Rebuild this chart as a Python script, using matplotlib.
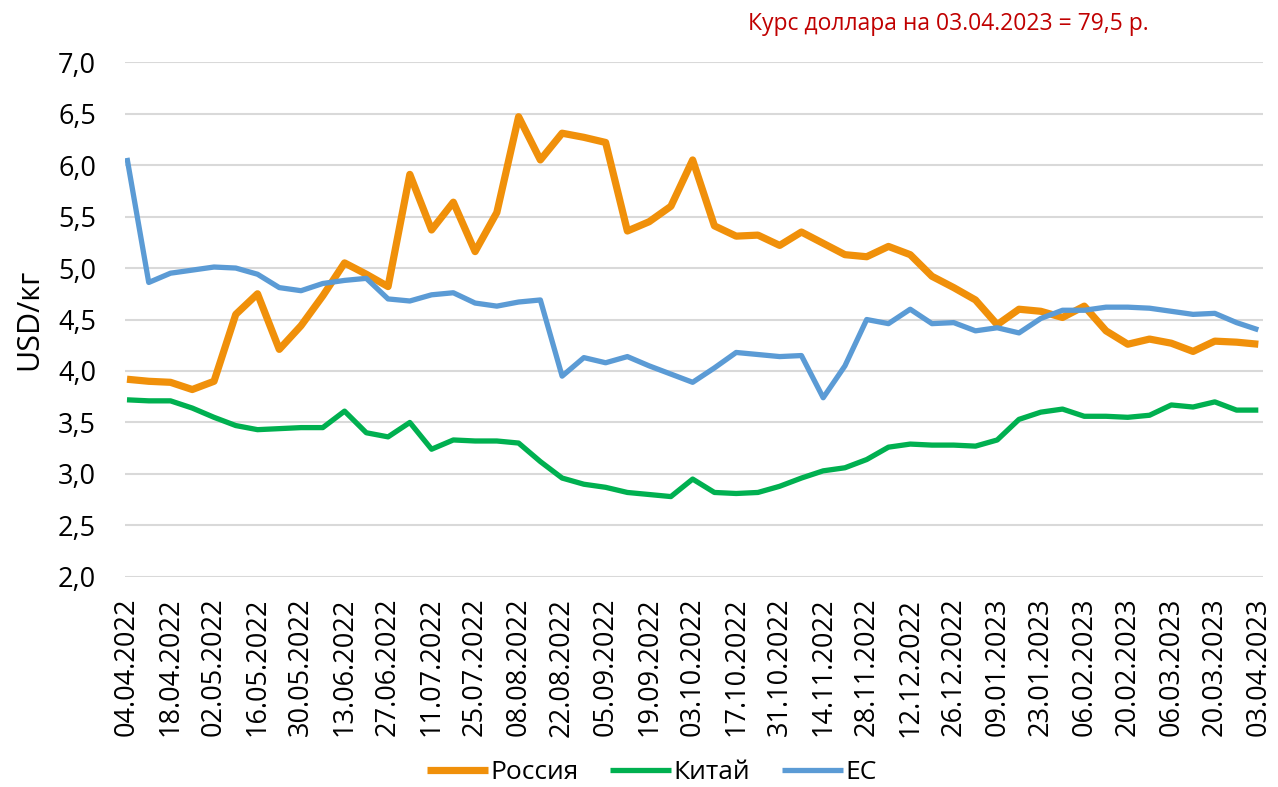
import pandas as pd
import matplotlib
matplotlib.use("Agg")
import matplotlib.pyplot as plt
from matplotlib.ticker import FuncFormatter

plt.rcParams["font.family"] = ["Open Sans", "DejaVu Sans"]

# недельные даты, 04.04.2022 .. 03.04.2023
DATES = pd.date_range("2022-04-04", "2023-04-03", freq="7D")
DATE_LABELS = [d.strftime("%d.%m.%Y") for d in DATES]

RUSSIA = [3.92, 3.90, 3.89, 3.82, 3.90, 4.55, 4.75, 4.21, 4.44, 4.73,
          5.05, 4.94, 4.82, 5.91, 5.37, 5.64, 5.16, 5.54, 6.47, 6.05,
          6.31, 6.27, 6.22, 5.36, 5.45, 5.60, 6.05, 5.41, 5.31, 5.32,
          5.22, 5.35, 5.24, 5.13, 5.11, 5.21, 5.13, 4.92, 4.81, 4.69,
          4.45, 4.60, 4.58, 4.52, 4.63, 4.39, 4.26, 4.31, 4.27, 4.19,
          4.29, 4.28, 4.26]
CHINA = [3.72, 3.71, 3.71, 3.64, 3.55, 3.47, 3.43, 3.44, 3.45, 3.45,
         3.61, 3.40, 3.36, 3.50, 3.24, 3.33, 3.32, 3.32, 3.30, 3.12,
         2.96, 2.90, 2.87, 2.82, 2.80, 2.78, 2.95, 2.82, 2.81, 2.82,
         2.88, 2.96, 3.03, 3.06, 3.14, 3.26, 3.29, 3.28, 3.28, 3.27,
         3.33, 3.53, 3.60, 3.63, 3.56, 3.56, 3.55, 3.57, 3.67, 3.65,
         3.70, 3.62, 3.62]
EU = [6.07, 4.86, 4.95, 4.98, 5.01, 5.00, 4.94, 4.81, 4.78, 4.85,
      4.88, 4.90, 4.70, 4.68, 4.74, 4.76, 4.66, 4.63, 4.67, 4.69,
      3.95, 4.13, 4.08, 4.14, 4.05, 3.97, 3.89, 4.03, 4.18, 4.16,
      4.14, 4.15, 3.74, 4.05, 4.50, 4.46, 4.60, 4.46, 4.47, 4.39,
      4.42, 4.37, 4.51, 4.59, 4.59, 4.62, 4.62, 4.61, 4.58, 4.55,
      4.56, 4.47, 4.40]

SERIES = [
    ("Россия", RUSSIA, "#F0900A", 5.2),
    ("Китай", CHINA, "#00B050", 3.8),
    ("ЕС", EU, "#5B9BD5", 3.8),
]

fig = plt.figure(figsize=(12.78, 7.87), dpi=100)
ax = fig.add_axes([0.098, 0.267, 0.890, 0.654])

x = list(range(len(DATES)))
for name, vals, color, lw in SERIES:
    ax.plot(x, vals, color=color, lw=lw, label=name,
            solid_joinstyle="round", solid_capstyle="butt")

ax.set_ylim(2.0, 7.0)
ax.set_yticks([2.0 + 0.5 * k for k in range(11)])
ax.yaxis.set_major_formatter(FuncFormatter(lambda v, p: f"{v:.1f}".replace(".", ",")))
ax.set_xlim(-0.08, len(DATES) - 1 + 0.2)
ax.set_xticks(x[::2])
ax.set_xticklabels(DATE_LABELS[::2], rotation=90)

ax.grid(axis="y", color="#D9D9D9", lw=1.5)
ax.set_axisbelow(True)
for s in ax.spines.values():
    s.set_visible(False)
ax.tick_params(axis="both", length=0, labelsize=19.5, colors="black")
ax.tick_params(axis="y", pad=21)
ax.tick_params(axis="x", pad=15)
ax.set_ylabel("USD/кг", fontsize=22, labelpad=10)

fig.text(0.585, 0.970, "Курс доллара на 03.04.2023 = 79,5 р.",
         color="#C00000", fontsize=16.5, ha="left", va="center")

fig.legend(loc="center", bbox_to_anchor=(0.51, 0.018), ncol=3, frameon=False,
           fontsize=19, handlelength=2.3, handletextpad=0.1, columnspacing=1.2)

fig.savefig("out.png", dpi=100, facecolor="white")
